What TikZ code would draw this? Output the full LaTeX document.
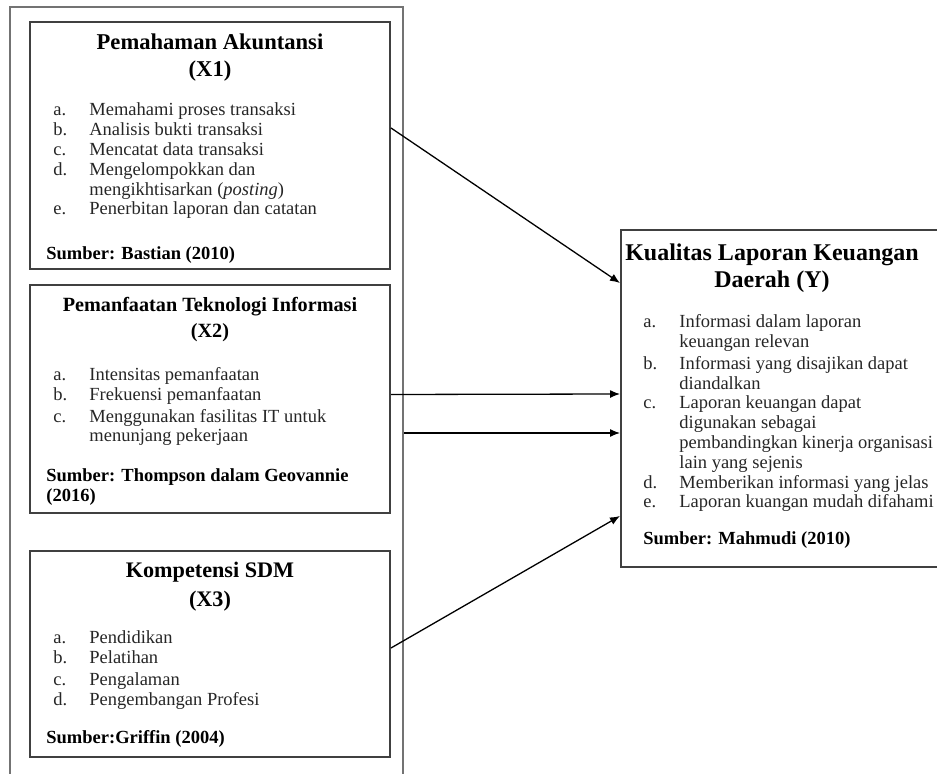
\documentclass[tikz,border=0pt]{standalone}
\usepackage{fontspec}
\setmainfont{Liberation Serif}
\usetikzlibrary{arrows.meta,positioning,calc,fit}

\newcommand{\butir}[2]{\makebox[18pt][l]{#1}#2}
\newcommand{\lanjut}{\hspace*{18pt}}

\tikzset{
  kotak/.style={draw=black!75, line width=1pt, inner sep=0pt},
  bingkai/.style={draw=black!55, line width=1.3pt, inner sep=0pt},
  judul/.style={font=\fontsize{#1}{13.5}\selectfont\bfseries, align=center, anchor=base, inner sep=0pt},
  judul/.default=12,
  isi/.style={font=\fontsize{9.25}{9.9}\selectfont, align=left, anchor=base west, inner sep=0pt, text=black!85},
  sumber/.style={font=\fontsize{9.25}{10}\selectfont\bfseries, align=left, anchor=base west, inner sep=0pt},
  panah/.style={-{Latex[length=5pt,width=4pt]}, line width=0.65pt}
}

\begin{document}
\begin{tikzpicture}[x=0.5pt,y=-0.5pt]
\useasboundingbox (0,0) rectangle (937,774);
\clip (0,0) rectangle (937,774);

% Frame round the independent variables
\node[bingkai, fit={(10,7) (403,859)}] (frame) {};

% Boxes
\node[kotak, fit={(30,22) (390,269)}] (x1) {};
\node[kotak, fit={(30,285) (390,513)}] (x2) {};
\node[kotak, fit={(30,551) (390,757)}] (x3) {};
\node[kotak, fit={(621,230) (950,567)}] (y) {};

% X1 (nodes sit on the baseline of their last line)
\node[judul=11.3] (x1judul) at (210,77) {Pemahaman Akuntansi\\(X1)};
\node[isi] (x1isi) at (53,215) {\butir{a.}{Memahami proses transaksi}\\
  \butir{b.}{Analisis bukti transaksi}\\
  \butir{c.}{Mencatat data transaksi}\\
  \butir{d.}{Mengelompokkan dan}\\
  \lanjut mengikhtisarkan (\textit{posting})\\
  \butir{e.}{Penerbitan laporan dan catatan}};
\node[sumber] (x1sumber) at (46,260) {Sumber: Bastian (2010)};

% X2
\node[judul=10.1] (x2judul) at (210,338) {Pemanfaatan Teknologi Informasi\\[-0.5pt](X2)};
\node[isi] (x2isi) at (53,442) {\butir{a.}{Intensitas pemanfaatan}\\
  \butir{b.}{Frekuensi pemanfaatan}\\[1pt]
  \butir{c.}{Menggunakan fasilitas IT untuk}\\
  \lanjut menunjang pekerjaan};
\node[sumber] (x2sumber) at (46,502) {Sumber: Thompson dalam Geovannie\\(2016)};

% X3
\node[judul=11.1] (x3judul) at (210,607) {Kompetensi SDM\\[1pt](X3)};
\node[isi] (x3isi) at (53,705) {\butir{a.}{Pendidikan}\\
  \butir{b.}{Pelatihan}\\[1pt]
  \butir{c.}{Pengalaman}\\
  \butir{d.}{Pengembangan Profesi}};
\node[sumber] (x3sumber) at (46,743) {Sumber:Griffin (2004)};

% Y
\node[judul] (yjudul) at (772,288) {Kualitas Laporan Keuangan\\Daerah (Y)};
\node[isi] (yisi) at (643,508) {\butir{a.}{Informasi dalam laporan}\\
  \lanjut keuangan relevan\\[1pt]
  \butir{b.}{Informasi yang disajikan dapat}\\
  \lanjut diandalkan\\
  \butir{c.}{Laporan keuangan dapat}\\
  \lanjut digunakan sebagai\\
  \lanjut pembandingkan kinerja organisasi\\
  \lanjut lain yang sejenis\\
  \butir{d.}{Memberikan informasi yang jelas}\\
  \butir{e.}{Laporan kuangan mudah difahami}};
\node[sumber] (ysumber) at (643,545) {Sumber: Mahmudi (2010)};

% Arrows
\draw[panah] ([yshift=8.75pt]x1.east) -- ([yshift=57.75pt]y.west);
\draw[panah] ([yshift=2.25pt]x2.east) -- ([yshift=2.25pt]y.west);
\draw[panah] (frame.east) -- (frame.east -| y.west);
\draw[panah] ([yshift=3pt]x3.east) -- ([yshift=-58.75pt]y.west);

\end{tikzpicture}
\end{document}
